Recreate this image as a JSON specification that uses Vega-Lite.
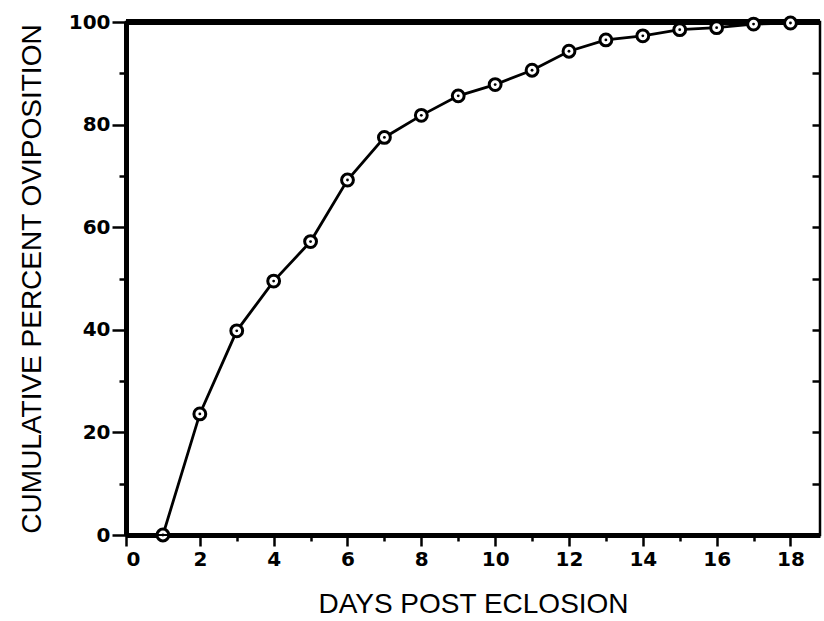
{
  "$schema": "https://vega.github.io/schema/vega-lite/v6.json",
  "autosize": "none",
  "width": 694,
  "height": 513,
  "padding": {"left": 126, "top": 22, "right": 4, "bottom": 86},
  "background": "white",
  "view": {"stroke": "black", "strokeWidth": 2.5},
  "data": {"values": [
    {"day": 1, "pct": 0},
    {"day": 2, "pct": 23.6},
    {"day": 3, "pct": 39.8},
    {"day": 4, "pct": 49.5},
    {"day": 5, "pct": 57.2},
    {"day": 6, "pct": 69.2},
    {"day": 7, "pct": 77.5},
    {"day": 8, "pct": 81.8},
    {"day": 9, "pct": 85.6},
    {"day": 10, "pct": 87.8},
    {"day": 11, "pct": 90.6},
    {"day": 12, "pct": 94.3},
    {"day": 13, "pct": 96.5},
    {"day": 14, "pct": 97.3},
    {"day": 15, "pct": 98.5},
    {"day": 16, "pct": 98.9},
    {"day": 17, "pct": 99.6},
    {"day": 18, "pct": 99.8}
  ]},
  "layer": [
    {
      "encoding": {
        "x": {
          "field": "day", "type": "quantitative",
          "scale": {"domain": [0, 18.8], "nice": false, "zero": false},
          "axis": {
            "title": "DAYS POST ECLOSION",
            "values": [0,1,2,3,4,5,6,7,8,9,10,11,12,13,14,15,16,17,18],
            "labelExpr": "datum.value % 2 === 0 ? datum.label : ''",
            "tickSize": {"condition": {"test": "datum.value % 2 === 0", "value": 11}, "value": 6},
            "tickWidth": 2.5, "tickColor": "black",
            "domainWidth": 5, "domainColor": "black",
            "grid": false,
            "labelFont": "DejaVu Sans", "labelFontWeight": "bold", "labelFontSize": 20,
            "labelColor": "black", "labelPadding": 3,
            "titleFont": "Liberation Sans", "titleFontWeight": "normal", "titleFontSize": 28,
            "titleColor": "black", "titlePadding": 21
          }
        },
        "y": {
          "field": "pct", "type": "quantitative",
          "scale": {"domain": [0, 100], "nice": false},
          "axis": {
            "title": "CUMULATIVE PERCENT OVIPOSITION",
            "values": [0,10,20,30,40,50,60,70,80,90,100],
            "labelExpr": "datum.value % 20 === 0 ? datum.label : ''",
            "tickSize": {"condition": {"test": "datum.value % 20 === 0", "value": 14}, "value": 7},
            "tickWidth": 2.5, "tickColor": "black",
            "domainWidth": 5, "domainColor": "black",
            "grid": false,
            "labelFont": "DejaVu Sans", "labelFontWeight": "bold", "labelFontSize": 20,
            "labelColor": "black", "labelPadding": 2,
            "titleFont": "Liberation Sans", "titleFontWeight": "normal", "titleFontSize": 28,
            "titleColor": "black", "titlePadding": 22
          }
        }
      },
      "layer": [
        {
          "mark": {"type": "rule", "color": "black", "strokeWidth": 5},
          "encoding": {"y": {"datum": 100}, "x": {"datum": 0}, "x2": {"datum": 18.8}}
        },
        {
          "mark": {"type": "line", "color": "black", "strokeWidth": 2.8}
        },
        {
          "mark": {"type": "point", "shape": "circle", "filled": false, "color": "black", "fill": "white", "fillOpacity": 1, "size": 140, "strokeWidth": 3, "opacity": 1}
        },
        {
          "mark": {"type": "point", "shape": "circle", "filled": true, "color": "black", "size": 8, "opacity": 1}
        }
      ]
    },
    {
      "mark": {"type": "rule", "color": "black", "strokeWidth": 1},
      "encoding": {
        "y": {
          "datum": 0, "type": "quantitative",
          "scale": {"domain": [0, 100], "nice": false},
          "axis": {
            "orient": "right",
            "title": null,
            "values": [10,20,30,40,50,60,70,80,90],
            "labels": false,
            "domain": false,
            "grid": false,
            "offset": -8,
            "tickSize": 8,
            "tickWidth": 2.5, "tickColor": "black"
          }
        }
      }
    }
  ],
  "resolve": {"axis": {"y": "independent"}}
}
